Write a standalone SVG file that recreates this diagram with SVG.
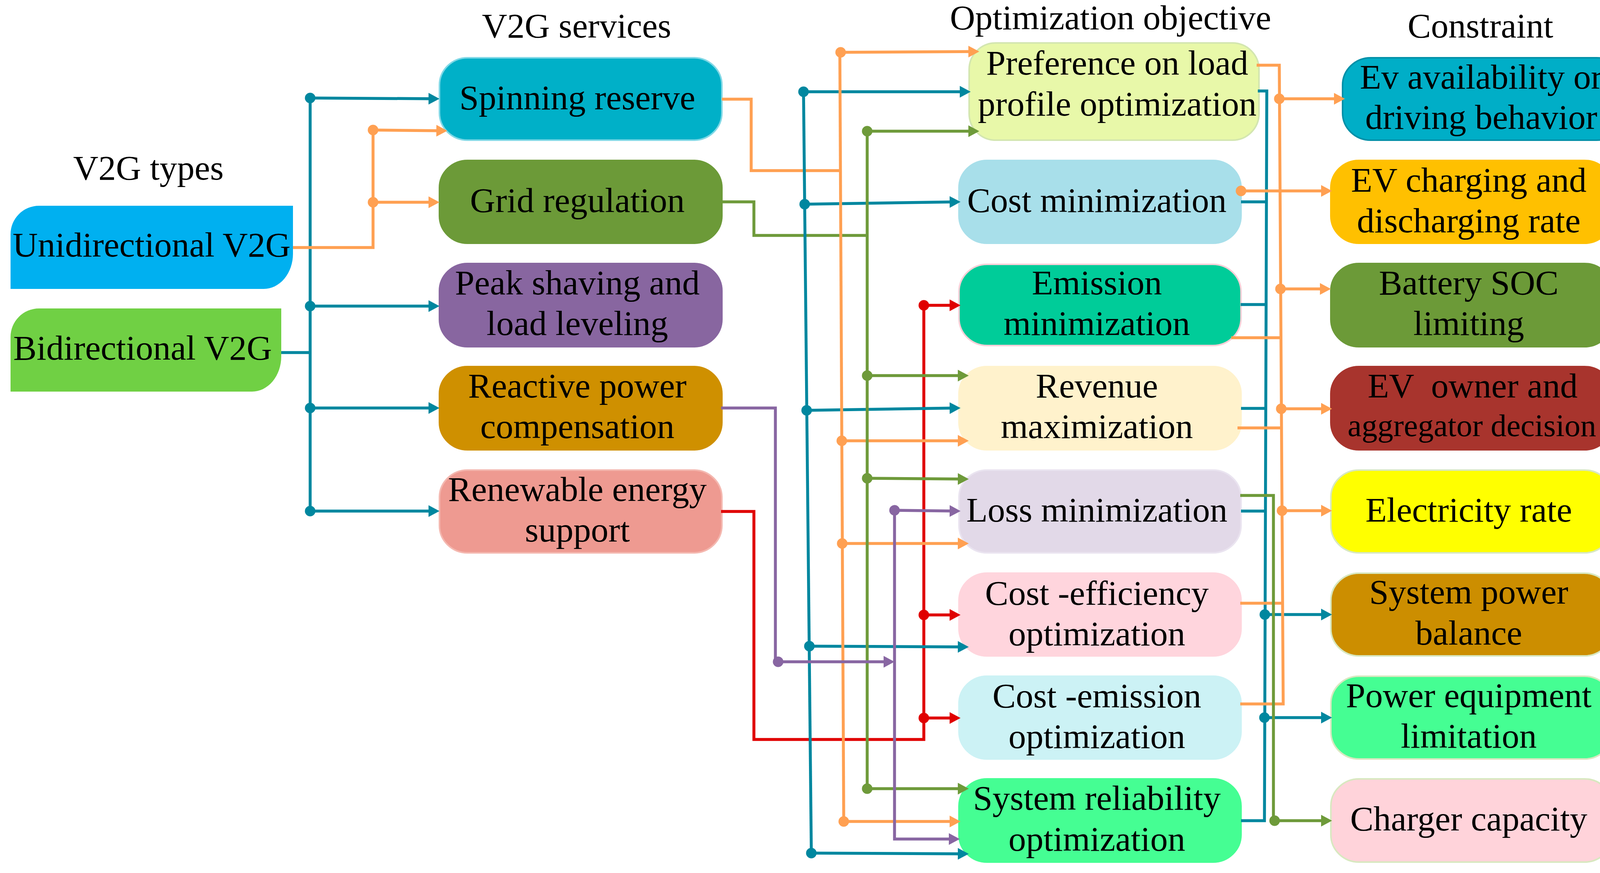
<svg xmlns="http://www.w3.org/2000/svg" width="4184" height="2236" viewBox="0 0 4184 2236">
<style>
text{font-family:"Liberation Serif","Times New Roman",serif;font-size:89.5px;fill:#000;text-anchor:middle}
.t{stroke:#00879F}.o{stroke:#FFA052}.g{stroke:#6E9A3A}.p{stroke:#8866A2}.r{stroke:#E00000}
#connectors path{fill:none;stroke-width:7.5;stroke-linejoin:miter}
.t.a{marker-start:url(#dt);marker-end:url(#at)}
.o.a{marker-start:url(#do);marker-end:url(#ao)}
.g.a{marker-start:url(#dg);marker-end:url(#ag)}
.p.a{marker-start:url(#dp);marker-end:url(#ap)}
.r.a{marker-start:url(#dr);marker-end:url(#ar)}
.e.t{marker-end:url(#at)}.e.p{marker-end:url(#ap)}
.box{stroke-width:4}
</style>
<defs>
<marker id="at" markerUnits="userSpaceOnUse" markerWidth="28" markerHeight="30" viewBox="0 0 28 30" refX="20" refY="15" orient="auto"><path d="M0,0 L28,15 L0,30 Z" fill="#00879F"/></marker>
<marker id="ao" markerUnits="userSpaceOnUse" markerWidth="28" markerHeight="30" viewBox="0 0 28 30" refX="20" refY="15" orient="auto"><path d="M0,0 L28,15 L0,30 Z" fill="#FFA052"/></marker>
<marker id="ag" markerUnits="userSpaceOnUse" markerWidth="28" markerHeight="30" viewBox="0 0 28 30" refX="20" refY="15" orient="auto"><path d="M0,0 L28,15 L0,30 Z" fill="#6E9A3A"/></marker>
<marker id="ap" markerUnits="userSpaceOnUse" markerWidth="28" markerHeight="30" viewBox="0 0 28 30" refX="20" refY="15" orient="auto"><path d="M0,0 L28,15 L0,30 Z" fill="#8866A2"/></marker>
<marker id="ar" markerUnits="userSpaceOnUse" markerWidth="28" markerHeight="30" viewBox="0 0 28 30" refX="20" refY="15" orient="auto"><path d="M0,0 L28,15 L0,30 Z" fill="#E00000"/></marker>
<marker id="dt" markerUnits="userSpaceOnUse" markerWidth="28" markerHeight="28" viewBox="-14 -14 28 28" refX="0" refY="0"><circle r="13.5" fill="#00879F"/></marker>
<marker id="do" markerUnits="userSpaceOnUse" markerWidth="28" markerHeight="28" viewBox="-14 -14 28 28" refX="0" refY="0"><circle r="13.5" fill="#FFA052"/></marker>
<marker id="dg" markerUnits="userSpaceOnUse" markerWidth="28" markerHeight="28" viewBox="-14 -14 28 28" refX="0" refY="0"><circle r="13.5" fill="#6E9A3A"/></marker>
<marker id="dp" markerUnits="userSpaceOnUse" markerWidth="28" markerHeight="28" viewBox="-14 -14 28 28" refX="0" refY="0"><circle r="13.5" fill="#8866A2"/></marker>
<marker id="dr" markerUnits="userSpaceOnUse" markerWidth="28" markerHeight="28" viewBox="-14 -14 28 28" refX="0" refY="0"><circle r="13.5" fill="#E00000"/></marker>
</defs>
<rect width="4184" height="2236" fill="#fff"/>

<g id="titles">
<text x="380" y="460">V2G types</text>
<text x="1476" y="96">V2G services</text>
<text x="2843" y="75">Optimization objective</text>
<text x="3790" y="96">Constraint</text>
</g>

<g id="node-unidirectional">
<path d="M100,527 H750 V650 A75,90 0 0 1 675,740 H27 V600 A73,73 0 0 1 100,527 Z" fill="#00B0F0"/>
<text x="388" y="657">Unidirectional V2G</text>
</g>
<g id="node-bidirectional">
<path d="M100,790 H720 V913 A75,90 0 0 1 645,1003 H27 V863 A73,73 0 0 1 100,790 Z" fill="#70D044"/>
<text x="365" y="921">Bidirectional V2G</text>
</g>

<g id="node-spinning"><rect class="box" x="1125" y="148" width="723" height="211" rx="72" ry="70" fill="#00B0C8" stroke="#80D8E6"/><text x="1478" y="280">Spinning reserve</text></g>
<g id="node-grid"><rect class="box" x="1125" y="411" width="723" height="212" rx="72" ry="70" fill="#6C9A38" stroke="#6C9A38"/><text x="1478" y="543">Grid regulation</text></g>
<g id="node-peak"><rect class="box" x="1125" y="675" width="723" height="213" rx="72" ry="70" fill="#8866A0" stroke="#8866A0"/><text x="1478" y="754">Peak shaving and</text><text x="1478" y="858">load leveling</text></g>
<g id="node-reactive"><rect class="box" x="1125" y="939" width="723" height="213" rx="72" ry="70" fill="#CF9000" stroke="#CF9000"/><text x="1478" y="1018">Reactive power</text><text x="1478" y="1122">compensation</text></g>
<g id="node-renewable"><rect class="box" x="1125" y="1204" width="723" height="212" rx="72" ry="70" fill="#EE9A91" stroke="#F4B8B0"/><text x="1478" y="1283">Renewable energy</text><text x="1478" y="1387">support</text></g>

<g id="node-preference"><rect class="box" x="2481" y="110" width="742" height="249" rx="68" ry="68" fill="#E8F8A9" stroke="#D3E6B0"/><text x="2860" y="191">Preference on load</text><text x="2860" y="296">profile optimization</text></g>
<g id="node-costmin"><rect class="box" x="2455" y="411" width="722" height="212" rx="72" ry="70" fill="#A8DFEA" stroke="#A8DFEA"/><text x="2808" y="543">Cost minimization</text></g>
<g id="node-emission"><rect class="box" x="2455" y="677" width="722" height="208" rx="72" ry="70" fill="#00CC99" stroke="#F8D0D8"/><text x="2808" y="754">Emission</text><text x="2808" y="858">minimization</text></g>
<g id="node-revenue"><rect class="box" x="2455" y="939" width="722" height="213" rx="72" ry="70" fill="#FFF2CC" stroke="#FFF2CC"/><text x="2808" y="1018">Revenue</text><text x="2808" y="1122">maximization</text></g>
<g id="node-loss"><rect class="box" x="2455" y="1204" width="722" height="212" rx="72" ry="70" fill="#E2D9E8" stroke="#EAE4F0"/><text x="2808" y="1336">Loss minimization</text></g>
<g id="node-costeff"><rect class="box" x="2455" y="1468" width="722" height="212" rx="72" ry="70" fill="#FFD5DD" stroke="#FFD5DD"/><text x="2808" y="1549">Cost -efficiency</text><text x="2808" y="1653">optimization</text></g>
<g id="node-costemis"><rect class="box" x="2455" y="1732" width="722" height="212" rx="72" ry="70" fill="#CCF2F5" stroke="#CCF2F5"/><text x="2808" y="1812">Cost -emission</text><text x="2808" y="1916">optimization</text></g>
<g id="node-sysrel"><rect class="box" x="2455" y="1995" width="722" height="213" rx="72" ry="70" fill="#45FE93" stroke="#45FE93"/><text x="2808" y="2074">System reliability</text><text x="2808" y="2179">optimization</text></g>

<g id="node-evavail"><rect class="box" x="3437" y="148" width="722" height="211" rx="72" ry="70" fill="#00AEC7" stroke="#0090A8"/><text x="3792" y="227">Ev availability or</text><text x="3792" y="330">driving behavior</text></g>
<g id="node-evcharge"><rect class="box" x="3407" y="411" width="721" height="212" rx="72" ry="70" fill="#FFC000" stroke="#FFC000"/><text x="3760" y="491">EV charging and</text><text x="3760" y="595">discharging rate</text></g>
<g id="node-battery"><rect class="box" x="3407" y="675" width="721" height="213" rx="72" ry="70" fill="#6C9A38" stroke="#6C9A38"/><text x="3760" y="754">Battery SOC</text><text x="3760" y="858">limiting</text></g>
<g id="node-owner"><rect class="box" x="3407" y="939" width="721" height="213" rx="72" ry="70" fill="#A8342D" stroke="#A8342D"/><text x="3770" y="1018" style="white-space:pre">EV  owner and</text><text x="3768" y="1117" style="font-size:81px">aggregator decision</text></g>
<g id="node-elec"><rect class="box" x="3407" y="1204" width="721" height="212" rx="72" ry="70" fill="#FFFF00" stroke="#D8E8C0"/><text x="3760" y="1336">Electricity rate</text></g>
<g id="node-spb"><rect class="box" x="3407" y="1468" width="721" height="212" rx="72" ry="70" fill="#CC8E00" stroke="#D8E8C0"/><text x="3760" y="1546">System power</text><text x="3760" y="1651">balance</text></g>
<g id="node-pel"><rect class="box" x="3407" y="1732" width="721" height="212" rx="72" ry="70" fill="#45FE93" stroke="#D8E8C0"/><text x="3760" y="1811">Power equipment</text><text x="3760" y="1915">limitation</text></g>
<g id="node-charger"><rect class="box" x="3407" y="1995" width="721" height="213" rx="72" ry="70" fill="#FFD3DA" stroke="#D8E8C0"/><text x="3760" y="2127">Charger capacity</text></g>

<g id="connectors">
<path class="t" d="M720,903 H794"/>
<path class="t" d="M794,251 V1309"/>
<path class="t a" d="M794,251 L1117,253"/>
<path class="t a" d="M794,784 H1117"/>
<path class="t a" d="M794,1045 H1117"/>
<path class="t a" d="M794,1309 H1117"/>
<path class="o" d="M750,634 H955 V333"/>
<path class="o a" d="M955,333 L1137,335"/>
<path class="o a" d="M955,518 H1117"/>
<path class="o" d="M1848,254 H1923 V437 H2152"/>
<path class="g" d="M1848,517 H1930 V603 H2220"/>
<path class="p" d="M1846,1045 H1985 V1695"/>
<path class="r" d="M1846,1310 H1930 V1894 H2365 V782"/>
<path class="t" d="M2057,235 L2077,2185"/>
<path class="t a" d="M2057,235 H2477"/>
<path class="t a" d="M2060,523 L2451,517"/>
<path class="t a" d="M2065,1051 L2451,1045"/>
<path class="t a" d="M2072,1655 L2472,1657"/>
<path class="t a" d="M2077,2185 L2472,2187"/>
<path class="o" d="M2150,134 L2160,2104"/>
<path class="o a" d="M2152,134 L2499,132"/>
<path class="o a" d="M2155,1129 H2472"/>
<path class="o a" d="M2156,1392 H2472"/>
<path class="o a" d="M2160,2104 H2451"/>
<path class="g" d="M2220,336 V2020"/>
<path class="g a" d="M2220,336 H2499"/>
<path class="g a" d="M2220,962 H2472"/>
<path class="g a" d="M2220,1225 L2472,1227"/>
<path class="g a" d="M2220,2020 H2472"/>
<path class="p a" d="M1992,1695 H2282"/>
<path class="p e" d="M2290,1307 V2149 H2449"/>
<path class="p a" d="M2290,1307 L2451,1309"/>
<path class="r a" d="M2365,782 H2451"/>
<path class="r a" d="M2365,1575 H2451"/>
<path class="r a" d="M2365,1839 H2451"/>
<path class="t" d="M3220,233 H3243 L3237,2102 H3177"/>
<path class="t" d="M3177,517 H3242"/>
<path class="t" d="M3176,780 H3241"/>
<path class="t" d="M3177,1046 H3240"/>
<path class="t" d="M3177,1309 H3239"/>
<path class="t a" d="M3238,1574 H3402"/>
<path class="t a" d="M3237,1838 H3402"/>
<path class="o" d="M3217,167 H3275 L3285,1803 H3175"/>
<path class="o" d="M3152,865 H3280"/>
<path class="o" d="M3168,1096 H3281"/>
<path class="o" d="M3175,1545 H3283"/>
<path class="o a" d="M3275,253 H3435"/>
<path class="o a" d="M3278,740 H3399"/>
<path class="o a" d="M3280,1047 H3402"/>
<path class="o a" d="M3282,1308 H3402"/>
<path class="o a" d="M3177,489 H3402"/>
<path class="g" d="M3175,1269 H3260 V2102"/>
<path class="g a" d="M3263,2102 H3402"/>
</g>
</svg>
